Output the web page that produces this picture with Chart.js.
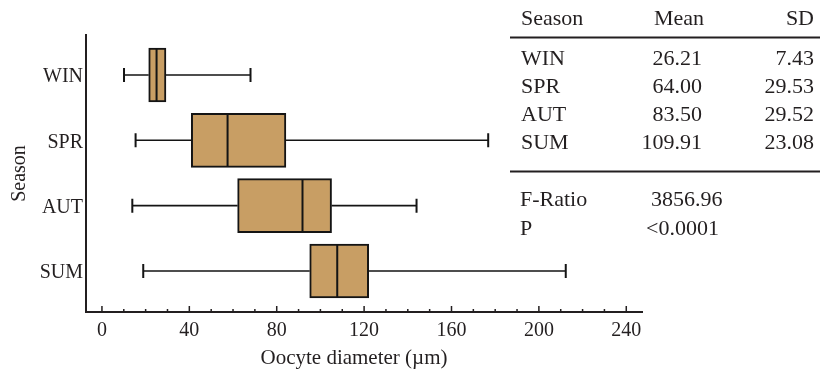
<!DOCTYPE html>
<html lang="en">
<head>
  <meta charset="UTF-8">
  <title>Oocyte diameter by season</title>
  <script src="https://cdn.jsdelivr.net/npm/chart.js"></script>
  <style>
    body { margin: 0; background: #ffffff; }
    #wrap { position: relative; width: 820px; height: 373px; }
  </style>
</head>
<body>
  <div id="wrap">
    <canvas id="oocyteChart" width="820" height="373"></canvas>
  </div>

  <script>
// box plot values
const seasons = ['WIN', 'SPR', 'AUT', 'SUM'];
const whiskerLow = [10.1, 15.4, 13.9, 18.9];
const q1 = [21.4, 40.9, 62.1, 95.1];
const median = [25.0, 57.5, 91.8, 107.7];
const q3 = [29.3, 84.2, 105.1, 122.1];
const whiskerHigh = [68.0, 176.8, 144.0, 212.3];

// axis ticks
const xTicks = [0, 40, 80, 120, 160, 200, 240];
const xMinorTicks = [10, 20, 30, 50, 60, 70, 90, 100, 110, 130, 140, 150, 170, 180, 190, 210, 220, 230];
const yTicks = [0, 1, 2, 3];

// summary table
const tableHeader = ['Season', 'Mean', 'SD'];
const means = ['26.21', '64.00', '83.50', '109.91'];
const sds = ['7.43', '29.53', '29.52', '23.08'];
const fRatio = '3856.96';
const pValue = '<0.0001';

const ink = '#231f20';
const serif = '"Liberation Serif", "DejaVu Serif", serif';

// whiskers, caps, medians, inside ticks, titles and the table
const boxExtras = {
  id: 'boxExtras',
  afterDatasetsDraw(chart) {
    const { ctx, scales: { x, y } } = chart;
    ctx.save();
    ctx.strokeStyle = '#141414';
    seasons.forEach((s, i) => {
      const cy = y.getPixelForValue(i);
      const lo = x.getPixelForValue(whiskerLow[i]);
      const hi = x.getPixelForValue(whiskerHigh[i]);
      ctx.lineWidth = 1.6;
      ctx.beginPath();
      ctx.moveTo(lo, cy);
      ctx.lineTo(x.getPixelForValue(q1[i]), cy);
      ctx.moveTo(x.getPixelForValue(q3[i]), cy);
      ctx.lineTo(hi, cy);
      ctx.stroke();

      ctx.lineWidth = 2;
      ctx.beginPath();
      ctx.moveTo(lo, cy - 7);
      ctx.lineTo(lo, cy + 7);
      ctx.moveTo(hi, cy - 7);
      ctx.lineTo(hi, cy + 7);
      const m = x.getPixelForValue(median[i]);
      ctx.moveTo(m, cy - 26);
      ctx.lineTo(m, cy + 26);
      ctx.stroke();
    });
    ctx.restore();
  },
  afterDraw(chart) {
    const { ctx, chartArea, scales: { x } } = chart;
    ctx.save();

    // ticks pointing up into the plot
    ctx.strokeStyle = ink;
    ctx.lineWidth = 1.5;
    ctx.beginPath();
    xTicks.forEach(v => {
      const px = x.getPixelForValue(v);
      ctx.moveTo(px, chartArea.bottom);
      ctx.lineTo(px, chartArea.bottom - 6);
    });
    xMinorTicks.forEach(v => {
      const px = x.getPixelForValue(v);
      ctx.moveTo(px, chartArea.bottom);
      ctx.lineTo(px, chartArea.bottom - 3);
    });
    ctx.stroke();

    // axis titles
    ctx.fillStyle = ink;
    ctx.font = '21px ' + serif;
    ctx.textAlign = 'center';
    ctx.textBaseline = 'alphabetic';
    ctx.fillText('Oocyte diameter (\u00b5m)', 354, 364);

    ctx.save();
    ctx.translate(25, (chartArea.top + chartArea.bottom) / 2);
    ctx.rotate(-Math.PI / 2);
    ctx.font = '20px ' + serif;
    ctx.fillText('Season', 0, 0);
    ctx.restore();

    // table
    ctx.font = '22px ' + serif;
    ctx.textAlign = 'left';
    ctx.fillText(tableHeader[0], 521, 25);
    ctx.textAlign = 'right';
    ctx.fillText(tableHeader[1], 704, 25);
    ctx.fillText(tableHeader[2], 814, 25);

    seasons.forEach((s, i) => {
      const base = 65 + i * 28;
      ctx.textAlign = 'left';
      ctx.fillText(s, 521, base);
      ctx.textAlign = 'right';
      ctx.fillText(means[i], 702, base);
      ctx.fillText(sds[i], 814, base);
    });

    ctx.textAlign = 'left';
    ctx.fillText('F-Ratio', 520, 206);
    ctx.fillText(fRatio, 651, 206);
    ctx.fillText('P', 520, 235);
    ctx.fillText(pValue, 646, 235);

    ctx.lineWidth = 2;
    ctx.beginPath();
    ctx.moveTo(510, 37.5);
    ctx.lineTo(820, 37.5);
    ctx.moveTo(510, 171.5);
    ctx.lineTo(820, 171.5);
    ctx.stroke();

    ctx.restore();
  }
};

const ctx = document.getElementById('oocyteChart').getContext('2d');
new Chart(ctx, {
  type: 'bar',
  data: {
    datasets: [{
      data: seasons.map((s, i) => ({ x: [q1[i], q3[i]], y: i })),
      backgroundColor: '#c89e64',
      borderColor: '#141414',
      borderWidth: 2,
      borderSkipped: false,
      barThickness: 54
    }]
  },
  options: {
    indexAxis: 'y',
    responsive: false,
    animation: false,
    events: [],
    layout: { padding: { top: 35, right: 178, left: 0, bottom: 0 } },
    plugins: {
      legend: { display: false },
      tooltip: { enabled: false }
    },
    scales: {
      x: {
        type: 'linear',
        min: -7.3,
        max: 247.2,
        offset: false,
        afterFit: scale => { scale.height = 61; },
        afterBuildTicks: scale => { scale.ticks = xTicks.map(v => ({ value: v })); },
        grid: { display: false, drawTicks: false },
        border: { display: true, color: ink, width: 2 },
        ticks: {
          color: ink,
          padding: 7,
          maxRotation: 0,
          font: { family: serif, size: 20 }
        }
      },
      y: {
        type: 'linear',
        min: -0.612,
        max: 3.628,
        offset: false,
        reverse: true,
        afterFit: scale => { scale.width = 86; },
        afterBuildTicks: scale => { scale.ticks = yTicks.map(v => ({ value: v })); },
        grid: { display: false, drawTicks: false },
        border: { display: true, color: ink, width: 2 },
        ticks: {
          color: ink,
          padding: 3,
          labelOffset: 2,
          font: { family: serif, size: 20 },
          callback: v => seasons[v]
        }
      }
    }
  },
  plugins: [boxExtras]
});
  </script>
</body>
</html>
